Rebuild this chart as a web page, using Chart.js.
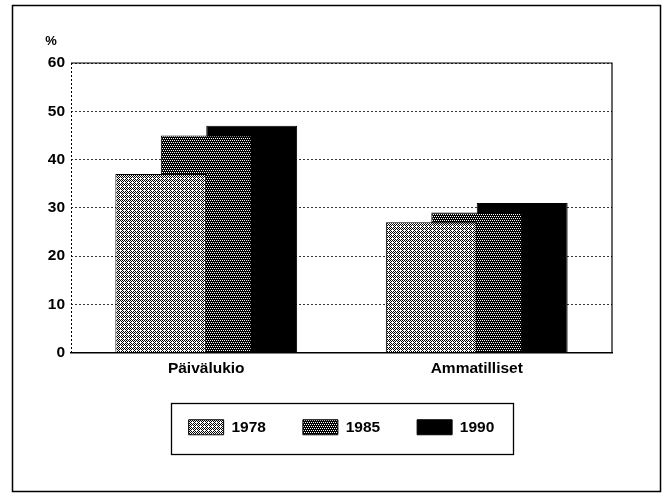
<!DOCTYPE html>
<html>
<head>
<meta charset="utf-8">
<script src="https://cdn.jsdelivr.net/npm/chart.js@4/dist/chart.umd.min.js"></script>
<style>
  html, body { margin: 0; padding: 0; background: #fff; }
  #wrap { width: 667px; height: 494px; }
</style>
</head>
<body>
<div id="wrap"><canvas id="chart" width="667" height="494"></canvas></div>
<script>
// Data
const categories = ['Päivälukio', 'Ammatilliset'];
const years = ['1978', '1985', '1990'];
const values1978 = [37, 27];
const values1985 = [45, 29];
const values1990 = [47, 31];
const yMin = 0;
const yMax = 60;
const yStep = 10;

const FONT = '"Liberation Sans", Arial, Helvetica, sans-serif';
const FONT_SIZE = 15.5;

// small tiled patterns that mimic the printed screens
function makePattern(size, draw) {
    const c = document.createElement('canvas');
    c.width = size;
    c.height = size;
    const g = c.getContext('2d');
    draw(g, size);
    return g.createPattern(c, 'repeat');
}

// light fine checker screen (1978)
const lightScreen = makePattern(4, (g, n) => {
    g.fillStyle = '#fff';
    g.fillRect(0, 0, n, n);
    g.fillStyle = '#000';
    for (let x = 0; x < n; x++) {
        for (let y = 0; y < n; y++) {
            if ((x + y) % 2 === 0 && !(x === 0 && y === 2)) g.fillRect(x, y, 1, 1);
        }
    }
});

// dark dotted screen (1985)
const darkScreen = makePattern(4, (g, n) => {
    g.fillStyle = '#000';
    g.fillRect(0, 0, n, n);
    g.fillStyle = '#fff';
    [[0, 0], [2, 0], [1, 2], [3, 2]].forEach(([x, y]) => g.fillRect(x, y, 1, 1));
});

// frame, plot border, legend box and the "%" label
const decorations = {
    id: 'decorations',
    beforeDraw(chart) {
        const ctx = chart.ctx;
        ctx.save();
        ctx.fillStyle = '#fff';
        ctx.fillRect(0, 0, chart.width, chart.height);
        ctx.restore();
    },
    afterDraw(chart) {
        const ctx = chart.ctx;
        const a = chart.chartArea;
        ctx.save();

        // outer frame
        ctx.strokeStyle = '#000';
        ctx.lineWidth = 1.5;
        ctx.strokeRect(12.5, 5.5, 648, 486);

        // top and right edge of the plot
        ctx.lineWidth = 1.2;
        ctx.beginPath();
        ctx.moveTo(a.left, a.top);
        ctx.lineTo(a.right, a.top);
        ctx.lineTo(a.right, a.bottom);
        ctx.stroke();

        // dotted left axis
        ctx.lineWidth = 1;
        ctx.setLineDash([2, 2]);
        ctx.beginPath();
        ctx.moveTo(a.left + 0.5, a.top);
        ctx.lineTo(a.left + 0.5, a.bottom);
        ctx.stroke();
        ctx.setLineDash([]);

        // box round the legend
        const hb = chart.legend.legendHitBoxes;
        if (hb && hb.length) {
            const first = hb[0];
            const last = hb[hb.length - 1];
            const l = first.left - 18;
            const r = last.left + last.width + 18;
            const t = first.top - 17;
            const b = first.top + first.height + 18;
            ctx.lineWidth = 1.3;
            ctx.strokeRect(Math.round(l) + 0.5, Math.round(t) + 0.5, Math.round(r - l), Math.round(b - t));
        }

        // unit label
        ctx.fillStyle = '#000';
        ctx.font = 'bold 13px ' + FONT;
        ctx.textAlign = 'center';
        ctx.textBaseline = 'middle';
        ctx.fillText('%', 51, 41);
        ctx.restore();
    }
};

const ctx = document.getElementById('chart').getContext('2d');

new Chart(ctx, {
    type: 'bar',
    data: {
        labels: categories,
        datasets: [
            { label: years[0], data: values1978, backgroundColor: lightScreen },
            { label: years[1], data: values1985, backgroundColor: darkScreen },
            { label: years[2], data: values1990, backgroundColor: '#000' }
        ].map(ds => Object.assign(ds, {
            borderColor: '#000',
            borderWidth: 1,
            categoryPercentage: 0.504,
            barPercentage: 2.0
        }))
    },
    options: {
        responsive: false,
        animation: false,
        devicePixelRatio: 1,
        layout: {
            padding: { top: 63, right: 55, bottom: 49, left: 0 }
        },
        plugins: {
            title: { display: false },
            tooltip: { enabled: false },
            legend: {
                display: true,
                position: 'bottom',
                fullSize: false,
                labels: {
                    color: '#000',
                    font: { family: FONT, size: FONT_SIZE, weight: 'bold' },
                    boxWidth: 35,
                    boxHeight: 15,
                    padding: 37
                }
            }
        },
        scales: {
            x: {
                grid: { display: false, drawTicks: false },
                border: { display: true, color: '#000', width: 1.5 },
                ticks: {
                    color: '#000',
                    font: { family: FONT, size: FONT_SIZE, weight: 'bold' },
                    padding: 7,
                    maxRotation: 0
                },
                afterFit(scale) { scale.height = 30; }
            },
            y: {
                min: yMin,
                max: yMax,
                grid: { color: '#000', lineWidth: 0.8, drawTicks: false },
                border: { display: false, dash: [2, 2] },
                ticks: {
                    stepSize: yStep,
                    color: '#000',
                    font: { family: FONT, size: FONT_SIZE, weight: 'bold' },
                    padding: 6
                },
                afterFit(scale) { scale.width = 71; }
            }
        }
    },
    plugins: [decorations]
});
</script>
</body>
</html>
